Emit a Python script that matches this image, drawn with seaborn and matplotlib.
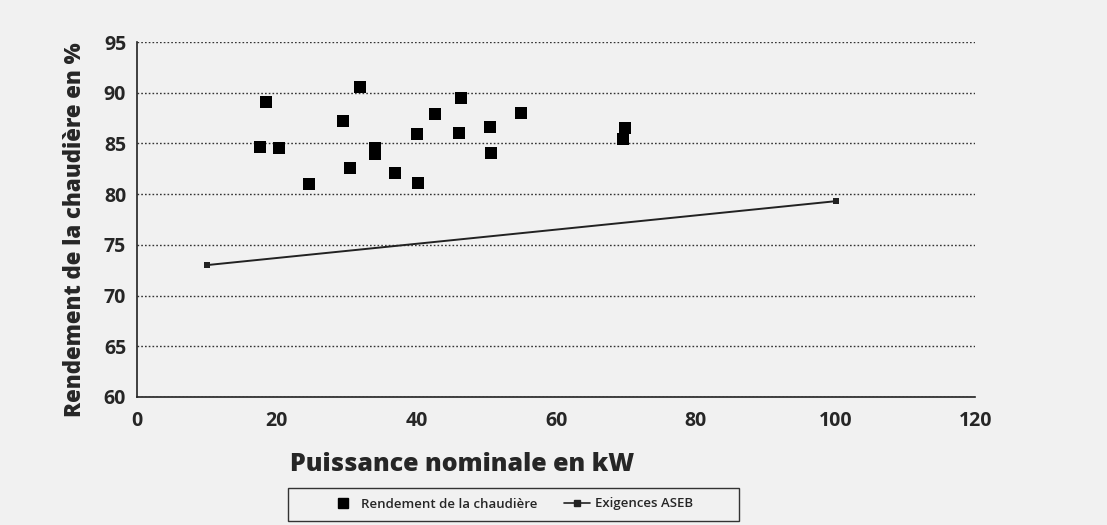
import numpy as np
import matplotlib.pyplot as plt
import seaborn as sns
import pandas as pd
from matplotlib.lines import Line2D
from matplotlib.patches import Rectangle

# Rendement de la chaudière (scatter)
puissance = [18.5, 17.6, 20.3, 24.6, 29.4, 30.4, 31.9, 34.1, 34.1, 36.9,
             40.0, 40.2, 42.6, 46.1, 46.3, 50.5, 50.6, 54.9, 69.9, 69.6]
rendement = [89.1, 84.6, 84.5, 81.0, 87.2, 82.6, 90.6, 84.5, 84.0, 82.1,
             85.9, 81.1, 87.9, 86.0, 89.5, 86.6, 84.1, 88.0, 86.5, 85.4]

# Exigences ASEB (ligne)
aseb_puissance = [10, 100]
aseb_rendement = [73.0, 79.3]

xticks = [0, 20, 40, 60, 80, 100, 120]
yticks = [60, 65, 70, 75, 80, 85, 90, 95]

df_pts = pd.DataFrame({'x': puissance, 'y': rendement})
df_line = pd.DataFrame({'x': aseb_puissance, 'y': aseb_rendement})

sns.set_style('white')
plt.rcParams['font.family'] = ['Open Sans', 'DejaVu Sans']

bg = '#f1f1f1'
fig = plt.figure(figsize=(11.07, 5.25), dpi=100, facecolor=bg)
ax = fig.add_axes([0.124, 0.244, 0.757, 0.676])
ax.set_facecolor(bg)

sns.scatterplot(data=df_pts, x='x', y='y', marker='s', s=70, color='black',
                edgecolor='black', linewidth=0, ax=ax, zorder=3)
sns.lineplot(data=df_line, x='x', y='y', color='#222222', linewidth=1.4,
             marker='s', markersize=5, markeredgewidth=0, ax=ax, zorder=3)

ax.set_xlim(0, 120)
ax.set_ylim(60, 95)
ax.set_xticks(xticks)
ax.set_yticks(yticks)
ax.set_xticklabels([str(t) for t in xticks], fontsize=14, fontweight='bold')
ax.set_yticklabels([str(t) for t in yticks], fontsize=14, fontweight='bold')

ax.yaxis.grid(True, linestyle=(0, (1.2, 1.5)), color='#333333', linewidth=1.0)
ax.xaxis.grid(False)
for s in ['top', 'right']:
    ax.spines[s].set_visible(False)
for s in ['left', 'bottom']:
    ax.spines[s].set_color('#222222')
    ax.spines[s].set_linewidth(1.2)
ax.tick_params(axis='x', direction='inout', length=10, width=1.2, color='#222222', pad=5)
ax.tick_params(axis='y', direction='inout', length=8, width=1.2, color='#222222', pad=4)

ax.set_xlabel('Puissance nominale en kW', fontsize=18, fontweight='heavy',
              va='center', ha='center')
ax.xaxis.set_label_coords(0.388, -0.19)
ax.set_ylabel('Rendement de la chaudière en %', fontsize=16, fontweight='heavy',
              va='center', ha='center')
ax.yaxis.set_label_coords(-0.074, 0.47)

handles = [
    Line2D([], [], marker='s', linestyle='none', color='black', markersize=7),
    Line2D([], [], marker='s', color='#222222', linewidth=1.2, markersize=4),
]
leg = fig.legend(handles, ['Rendement de la chaudière', 'Exigences ASEB'],
                 loc='center', bbox_to_anchor=(0.462, 0.04), ncol=2, frameon=False,
                 handlelength=2.0, handletextpad=0.4, columnspacing=2.0,
                 prop={'weight': 'semibold', 'size': 9.5})
# legend frame, wider than its content as in the original
fig.patches.append(Rectangle((0.260, 0.008), 0.408, 0.063, transform=fig.transFigure,
                             fill=False, edgecolor='#333333', linewidth=1.0))

fig.savefig('out.png', dpi=100, facecolor=fig.get_facecolor())
